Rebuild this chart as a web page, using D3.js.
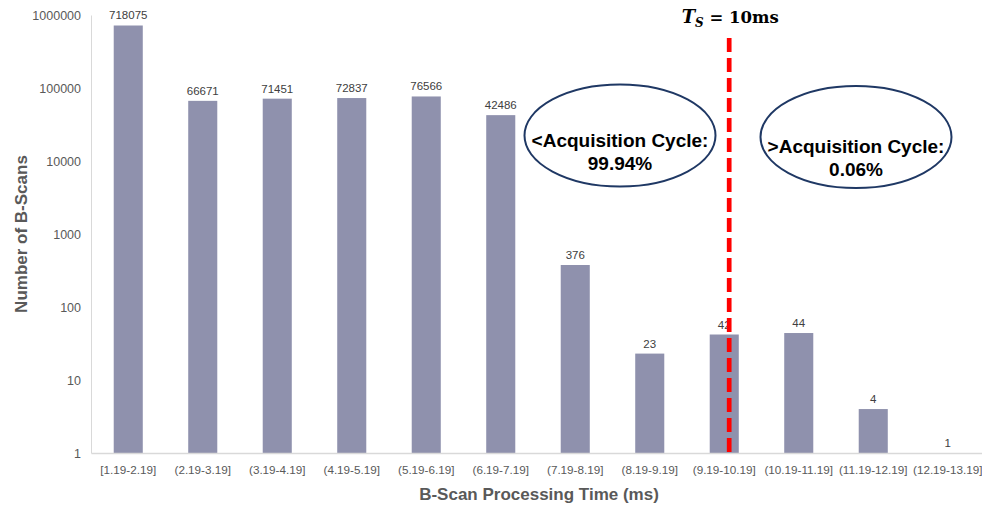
<!DOCTYPE html>
<html>
<head>
<meta charset="utf-8">
<script src="https://cdn.jsdelivr.net/npm/d3@7"></script>
<style>
  body { margin: 0; background: #fff; }
  svg { display: block; font-family: Arial, "Liberation Sans", sans-serif; }
</style>
</head>
<body>
<svg id="chart" width="982" height="506"></svg>
<script>
// ---- data ----
const categories = ['[1.19-2.19]', '(2.19-3.19]', '(3.19-4.19]', '(4.19-5.19]', '(5.19-6.19]', '(6.19-7.19]',
  '(7.19-8.19]', '(8.19-9.19]', '(9.19-10.19]', '(10.19-11.19]', '(11.19-12.19]', '(12.19-13.19]']
const counts = [718075, 66671, 71451, 72837, 76566, 42486, 376, 23, 42, 44, 4, 1]
const yTicks = [1, 10, 100, 1000, 10000, 100000, 1000000]
const shareBelow = '99.94%'
const shareAbove = '0.06%'

const svg = d3.select('#chart')

const m = { left: 91, right: 985, top: 15, bottom: 453 }

const x = d3.scaleBand()
  .domain(categories)
  .range([m.left, m.right])
  .paddingInner(0.61)
  .paddingOuter(0.305)

const y = d3.scaleLog()
  .domain([1, 1000000])
  .range([m.bottom, m.top])

// y axis
const yAxis = svg.append('g')
  .attr('transform', `translate(${m.left},0)`)
  .call(d3.axisLeft(y).tickValues(yTicks).tickFormat(d3.format('d')).tickSize(0).tickPadding(10))
yAxis.select('.domain').attr('stroke', '#d9d9d9')
yAxis.selectAll('text').attr('fill', '#595959').style('font-size', '12.5px')

// bars
svg.append('g').selectAll('rect')
  .data(counts)
  .join('rect')
    .attr('x', (d, i) => x(categories[i]))
    .attr('y', d => y(d))
    .attr('width', x.bandwidth())
    .attr('height', d => m.bottom - y(d))
    .attr('fill', '#8f91ad')

// value labels
svg.append('g').selectAll('text')
  .data(counts)
  .join('text')
    .attr('x', (d, i) => x(categories[i]) + x.bandwidth() / 2)
    .attr('y', d => y(d) - 6)
    .attr('text-anchor', 'middle')
    .attr('fill', '#404040')
    .style('font-size', '11.5px')
    .text(d => d)

// x axis
const xAxis = svg.append('g')
  .attr('transform', `translate(0,${m.bottom})`)
  .call(d3.axisBottom(x).tickSize(0).tickPadding(13))
xAxis.select('.domain').attr('stroke', '#d9d9d9').attr('stroke-width', 1.5)
xAxis.selectAll('text').attr('fill', '#595959').style('font-size', '11.7px')

// axis titles
svg.append('text')
  .attr('transform', `translate(27,${(m.top + m.bottom) / 2}) rotate(-90)`)
  .attr('text-anchor', 'middle')
  .attr('fill', '#595959')
  .style('font-size', '17px')
  .style('font-weight', 'bold')
  .text('Number of B-Scans')

svg.append('text')
  .attr('x', 539)
  .attr('y', 500)
  .attr('text-anchor', 'middle')
  .attr('fill', '#595959')
  .style('font-size', '17px')
  .style('font-weight', 'bold')
  .text('B-Scan Processing Time (ms)')

// threshold line (Ts = 10ms) inside the (9.19-10.19] bin
const bin = categories[8]
const tx = x(bin) + x.bandwidth() * 0.67
svg.append('line')
  .attr('x1', tx).attr('x2', tx)
  .attr('y1', 38).attr('y2', m.bottom)
  .attr('stroke', '#ff0000')
  .attr('stroke-width', 4.7)
  .attr('stroke-dasharray', '14,6')

const ts = svg.append('text')
  .attr('x', tx + 1)
  .attr('y', 23)
  .attr('text-anchor', 'middle')
  .attr('fill', '#000')
  .style('font-family', '"DejaVu Serif", serif')
  .style('font-size', '16.5px')
  .style('font-weight', 'bold')
ts.append('tspan').style('font-style', 'italic').style('font-size', '18px').text('T')
ts.append('tspan').attr('dy', 4).style('font-style', 'italic').style('font-size', '12px').text('S')
ts.append('tspan').attr('dy', -4).text(' = 10ms')

// callout ellipses
const callouts = [
  { cx: 620, cy: 135.5, lines: ['<Acquisition Cycle:', shareBelow], ty: 147 },
  { cx: 856, cy: 137, lines: ['>Acquisition Cycle:', shareAbove], ty: 153 }
]
callouts.forEach(c => {
  svg.append('ellipse')
    .attr('cx', c.cx).attr('cy', c.cy)
    .attr('rx', 95.5).attr('ry', 51)
    .attr('fill', 'none')
    .attr('stroke', '#1f3864')
    .attr('stroke-width', 2)
  c.lines.forEach((t, i) => {
    svg.append('text')
      .attr('x', c.cx)
      .attr('y', c.ty + i * 23)
      .attr('text-anchor', 'middle')
      .attr('fill', '#000')
      .style('font-size', '19px')
      .style('font-weight', 'bold')
      .text(t)
  })
})
</script>
</body>
</html>
